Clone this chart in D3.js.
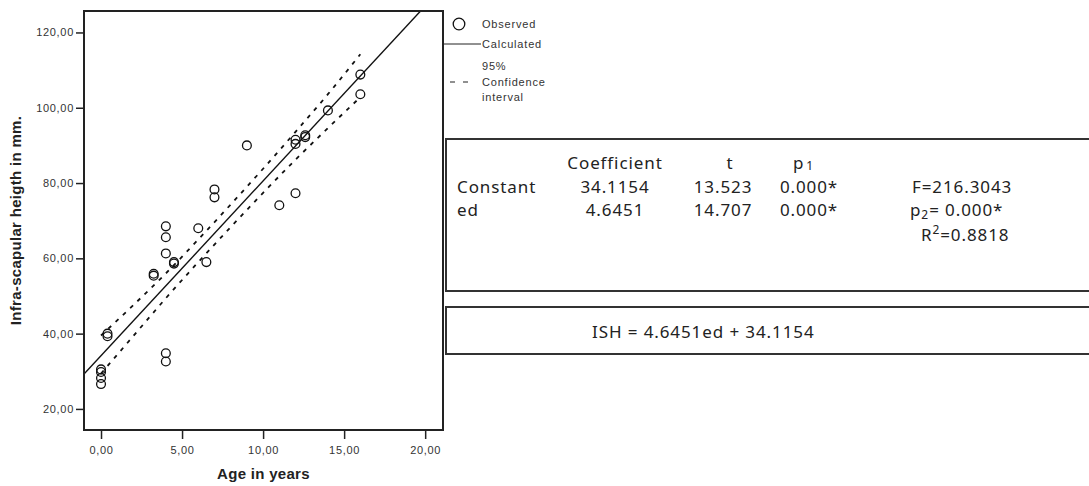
<!DOCTYPE html>
<html>
<head>
<meta charset="utf-8">
<script src="https://cdn.jsdelivr.net/npm/d3@7"></script>
<style>
  body { margin: 0; background: #fff; }
  svg { display: block; }
  .tick text { font-family: "Liberation Sans", Arial, sans-serif; font-size: 11px; fill: #333; letter-spacing: 0.7px; }
  .tick line { stroke: #222; stroke-width: 1.5; }
  .legend { font-family: "Liberation Sans", Arial, sans-serif; font-size: 11px; fill: #333; letter-spacing: 0.8px; }
  .title { font-family: "Liberation Sans", Arial, sans-serif; font-size: 15px; font-weight: bold; fill: #222; letter-spacing: 0.3px; }
  .tbl { font-family: "Noto Sans", "Open Sans", sans-serif; font-size: 17px; fill: #222; letter-spacing: 0.9px; }
</style>
</head>
<body>
<div id="vis"></div>
<script>
// frame
const FRAME_WIDTH = 1089;
const FRAME_HEIGHT = 486;
const PLOT = {left: 84, right: 443, top: 11, bottom: 430};

// observed points (age in years, infra-scapular height in mm)
const AGES = [0, 0, 0, 0, 0.4, 0.4, 3.25, 3.25, 4, 4, 4, 4, 4, 4.5, 4.5,
              6, 6.5, 7, 7, 9, 11, 12, 12, 12, 12.6, 12.6, 14, 16, 16];
const HEIGHTS = [30.5, 29.8, 28.2, 26.6, 40.0, 39.3, 55.9, 55.4, 68.5, 65.6, 61.3, 34.8, 32.6, 59.0, 58.6,
                 68.0, 59.0, 78.3, 76.2, 90.0, 74.1, 77.3, 91.5, 90.4, 92.7, 92.2, 99.3, 108.8, 103.6];

// 95% confidence band
const CI_AGES = [0, 2, 4, 6, 8, 10, 12, 14, 16];
const CI_UPPER = [39.5, 47.6, 56.0, 65.0, 74.3, 83.8, 93.6, 103.6, 114.2];
const CI_LOWER = [29.4, 39.4, 49.4, 59.0, 68.3, 77.4, 86.2, 94.6, 102.8];

// regression
const COEF_CONST = 34.1154;
const COEF_SLOPE = 4.6451;

// axis ticks
const X_TICKS = [0, 5, 10, 15, 20];
const Y_TICKS = [20, 40, 60, 80, 100, 120];

// table text
const TABLE_HEADER = ["Coefficient", "t"];
const TABLE_ROWS = [
  ["Constant", "34.1154", "13.523", "0.000*"],
  ["ed", "4.6451", "14.707", "0.000*"]
];
const F_TEXT = "F=216.3043";
const P2_TEXT = "= 0.000*";
const R2_TEXT = "=0.8818";
const EQUATION = "ISH = 4.6451ed + 34.1154";

const svg = d3.select("#vis")
  .append("svg")
    .attr("width", FRAME_WIDTH)
    .attr("height", FRAME_HEIGHT);

const x = d3.scaleLinear().domain([-1.05, 21.1]).range([PLOT.left, PLOT.right]);
const y = d3.scaleLinear().domain([14.4, 125.7]).range([PLOT.bottom, PLOT.top]);

const fmt = (d) => d.toFixed(2).replace(".", ",");

// axes
svg.append("g")
    .attr("transform", `translate(${PLOT.left},0)`)
    .call(d3.axisLeft(y).tickValues(Y_TICKS).tickSize(8).tickPadding(2).tickFormat(fmt))
    .call((g) => g.select(".domain").remove());

svg.append("g")
    .attr("transform", `translate(0,${PLOT.bottom})`)
    .call(d3.axisBottom(x).tickValues(X_TICKS).tickSize(9).tickPadding(7).tickFormat(fmt))
    .call((g) => g.select(".domain").remove());

// clip to plot area
svg.append("clipPath")
    .attr("id", "clip")
  .append("rect")
    .attr("x", PLOT.left)
    .attr("y", PLOT.top)
    .attr("width", PLOT.right - PLOT.left)
    .attr("height", PLOT.bottom - PLOT.top);

const plot = svg.append("g").attr("clip-path", "url(#clip)");

// regression line
const xs = x.domain();
plot.append("line")
    .attr("x1", x(xs[0]))
    .attr("y1", y(COEF_CONST + COEF_SLOPE * xs[0]))
    .attr("x2", x(xs[1]))
    .attr("y2", y(COEF_CONST + COEF_SLOPE * xs[1]))
    .attr("stroke", "#111")
    .attr("stroke-width", 1.4);

// confidence band
const band = d3.line()
    .x((d) => x(d[0]))
    .y((d) => y(d[1]))
    .curve(d3.curveMonotoneX);

[CI_UPPER, CI_LOWER].forEach((vals) => {
  plot.append("path")
      .datum(CI_AGES.map((a, i) => [a, vals[i]]))
      .attr("d", band)
      .attr("fill", "none")
      .attr("stroke", "#111")
      .attr("stroke-width", 1.8)
      .attr("stroke-dasharray", "4,6");
});

// observed points
plot.selectAll("circle")
    .data(AGES.map((a, i) => ({age: a, h: HEIGHTS[i]})))
    .enter()
    .append("circle")
      .attr("cx", (d) => x(d.age))
      .attr("cy", (d) => y(d.h))
      .attr("r", 4.4)
      .attr("fill", "none")
      .attr("stroke", "#111")
      .attr("stroke-width", 1.3);

// plot frame
svg.append("rect")
    .attr("x", PLOT.left)
    .attr("y", PLOT.top)
    .attr("width", PLOT.right - PLOT.left)
    .attr("height", PLOT.bottom - PLOT.top)
    .attr("fill", "none")
    .attr("stroke", "#222")
    .attr("stroke-width", 2);

// axis titles
svg.append("text")
    .attr("class", "title")
    .attr("x", (PLOT.left + PLOT.right) / 2)
    .attr("y", 479)
    .attr("text-anchor", "middle")
    .text("Age in years");

svg.append("text")
    .attr("class", "title")
    .attr("transform", `translate(21,${(PLOT.top + PLOT.bottom) / 2}) rotate(-90)`)
    .attr("text-anchor", "middle")
    .text("Infra-scapular heigth in mm.");

// legend
svg.append("circle")
    .attr("cx", 459).attr("cy", 24).attr("r", 5.8)
    .attr("fill", "none").attr("stroke", "#111").attr("stroke-width", 1.3);
svg.append("line")
    .attr("x1", PLOT.right).attr("x2", 481).attr("y1", 44).attr("y2", 44)
    .attr("stroke", "#222").attr("stroke-width", 1);
svg.append("line")
    .attr("x1", 450).attr("x2", 468).attr("y1", 82).attr("y2", 82)
    .attr("stroke", "#222").attr("stroke-width", 1.2)
    .attr("stroke-dasharray", "5,8");

const legendText = [["Observed", 28], ["Calculated", 48], ["95%", 70], ["Confidence", 86], ["interval", 101]];
svg.selectAll(".legend")
    .data(legendText)
    .enter()
    .append("text")
      .attr("class", "legend")
      .attr("x", 482)
      .attr("y", (d) => d[1])
      .text((d) => d[0]);

// statistics boxes
svg.append("rect")
    .attr("x", 446).attr("y", 139).attr("width", 660).attr("height", 152)
    .attr("fill", "none").attr("stroke", "#333").attr("stroke-width", 2);
svg.append("rect")
    .attr("x", 446).attr("y", 307).attr("width", 660).attr("height", 47)
    .attr("fill", "none").attr("stroke", "#333").attr("stroke-width", 2);

const COL_X = [457, 615, 723, 809];
const ROW_Y = [169, 193, 216];

svg.selectAll(".hdr")
    .data(TABLE_HEADER)
    .enter()
    .append("text")
      .attr("class", "tbl hdr")
      .attr("x", (d, i) => COL_X[i + 1] + (i === 1 ? 7 : 0))
      .attr("y", ROW_Y[0])
      .attr("text-anchor", "middle")
      .text((d) => d);

const p1 = svg.append("text")
    .attr("class", "tbl")
    .attr("x", 793)
    .attr("y", ROW_Y[0]);
p1.append("tspan").text("p");
p1.append("tspan").attr("dy", 1).attr("dx", 2).style("font-size", "12px").text("1");

TABLE_ROWS.forEach((row, r) => {
  row.forEach((cell, c) => {
    svg.append("text")
        .attr("class", "tbl")
        .attr("x", COL_X[c])
        .attr("y", ROW_Y[r + 1])
        .attr("text-anchor", c === 0 ? "start" : "middle")
        .text(cell);
  });
});

svg.append("text")
    .attr("class", "tbl")
    .attr("x", 912)
    .attr("y", ROW_Y[1])
    .text(F_TEXT);

const p2 = svg.append("text")
    .attr("class", "tbl")
    .attr("x", 910)
    .attr("y", ROW_Y[2]);
p2.append("tspan").text("p");
p2.append("tspan").attr("dy", 3).style("font-size", "12px").text("2");
p2.append("tspan").attr("dy", -3).text(P2_TEXT);

const r2 = svg.append("text")
    .attr("class", "tbl")
    .attr("x", 921)
    .attr("y", 241);
r2.append("tspan").text("R");
r2.append("tspan").attr("dy", -7).style("font-size", "12px").text("2");
r2.append("tspan").attr("dy", 7).text(R2_TEXT);

svg.append("text")
    .attr("class", "tbl")
    .attr("x", 592)
    .attr("y", 338)
    .text(EQUATION);
</script>
</body>
</html>
